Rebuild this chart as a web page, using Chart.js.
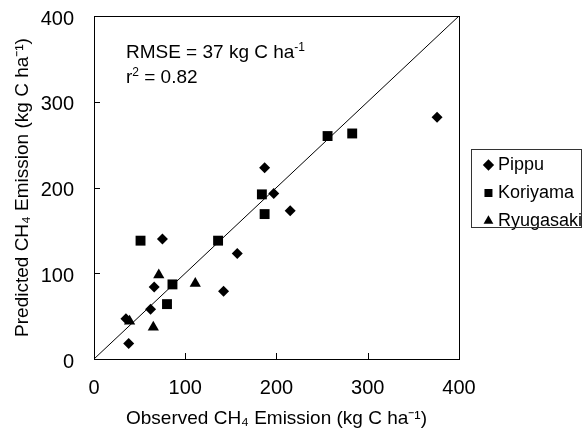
<!DOCTYPE html>
<html lang="en">
  <head>
    <meta charset="UTF-8" />
    <title>Observed vs Predicted CH4 Emission</title>
    <script src="https://cdn.jsdelivr.net/npm/chart.js"></script>
    <style>
      html, body { margin: 0; padding: 0; background: #fff; }
    </style>
  </head>
  <body>
    <canvas id="ch4Chart" width="583" height="430"></canvas>
    <script>
      // observed (x) vs predicted (y) CH4 emission, kg C/ha
      const pippuObs = [376, 187, 197, 215, 75, 157, 142, 66, 62, 35, 38];
      const pippuPred = [282, 223, 193, 173, 140, 123, 79, 84, 58, 47, 18];
      const koriyamaObs = [256, 283, 184, 187, 51, 136, 86, 80];
      const koriyamaPred = [260, 263, 192, 169, 138, 138, 87, 64];
      const ryugasakiObs = [71, 111, 65, 39];
      const ryugasakiPred = [98, 88, 37, 44];

      const siteNames = ["Pippu", "Koriyama", "Ryugasaki"];
      const axisTicks = [0, 100, 200, 300, 400];
      const oneToOne = [0, 400];

      const xTitle = "Observed CH\u2084 Emission (kg C ha\u207B\u00B9)";
      const yTitle = "Predicted CH\u2084 Emission (kg C ha\u207B\u00B9)";

      const fontFamily = "'Liberation Sans', Arial, sans-serif";
      Chart.defaults.font.family = fontFamily;
      Chart.defaults.color = "#000";

      const toPoints = (xs, ys) => xs.map((x, i) => ({ x: x, y: ys[i] }));

      // draws a line of text where some pieces are superscript
      function drawRich(ctx, parts, x, y, size) {
        let cx = x;
        parts.forEach((p) => {
          const fs = p.sup ? Math.round(size * 0.62) : size;
          ctx.font = fs + "px " + fontFamily;
          ctx.fillText(p.t, cx, p.sup ? y - size * 0.38 : y);
          cx += ctx.measureText(p.t).width;
        });
      }

      const framePlugin = {
        id: "frame",
        afterLayout(chart) {
          // push the legend a little clear of the plot frame
          const lg = chart.legend;
          lg.left += 19;
          lg.right += 19;
          lg.top += 5.5;
          lg.bottom += 5.5;
        },
        afterDraw(chart) {
          const ctx = chart.ctx;
          const xs = chart.scales.x;
          const ys = chart.scales.y;
          const { left, right, top, bottom } = chart.chartArea;
          ctx.save();
          ctx.strokeStyle = "#000";
          ctx.lineWidth = 1;

          // inward tick marks
          ctx.beginPath();
          xs.ticks.forEach((t) => {
            const px = Math.round(xs.getPixelForValue(t.value)) + 0.5;
            ctx.moveTo(px, bottom);
            ctx.lineTo(px, bottom - 6);
          });
          ys.ticks.forEach((t) => {
            const py = Math.round(ys.getPixelForValue(t.value)) + 0.5;
            ctx.moveTo(left, py);
            ctx.lineTo(left + 6, py);
          });
          ctx.stroke();

          // plot frame
          const l = Math.round(left) + 0.5;
          const t = Math.round(top) + 0.5;
          ctx.strokeRect(l, t, Math.round(right) - Math.round(left), Math.round(bottom) - Math.round(top));

          // stats text
          ctx.fillStyle = "#000";
          ctx.textBaseline = "alphabetic";
          ctx.textAlign = "left";
          const sx = xs.getPixelForValue(35);
          drawRich(ctx, [{ t: "RMSE = 37 kg C ha" }, { t: "-1", sup: true }], sx, ys.getPixelForValue(350.5), 19);
          drawRich(ctx, [{ t: "r" }, { t: "2", sup: true }, { t: " = 0.82" }], sx, ys.getPixelForValue(321.5), 19);

          // legend box
          const lg = chart.legend;
          const hb = lg.legendHitBoxes;
          if (hb && hb.length) {
            const first = hb[0];
            const last = hb[hb.length - 1];
            const bx = Math.round(lg.left - 7) + 0.5;
            const by = Math.round(first.top - 7) + 0.5;
            const bb = Math.round(last.top + last.height - 3) + 0.5;
            const br = chart.width - 1.5;
            ctx.strokeStyle = "#333";
            ctx.strokeRect(bx, by, br - bx, bb - by);
          }
          ctx.restore();
        },
      };

      new Chart(document.getElementById("ch4Chart"), {
        type: "scatter",
        data: {
          datasets: [
            {
              label: siteNames[0],
              data: toPoints(pippuObs, pippuPred),
              pointStyle: "rectRot",
              pointRadius: 5.5,
              backgroundColor: "#000",
              borderColor: "#000",
              borderWidth: 0,
            },
            {
              label: siteNames[1],
              data: toPoints(koriyamaObs, koriyamaPred),
              pointStyle: "rect",
              pointRadius: 7,
              backgroundColor: "#000",
              borderColor: "#000",
              borderWidth: 0,
            },
            {
              label: siteNames[2],
              data: toPoints(ryugasakiObs, ryugasakiPred),
              pointStyle: "triangle",
              pointRadius: 6.5,
              backgroundColor: "#000",
              borderColor: "#000",
              borderWidth: 0,
            },
            {
              label: "1:1",
              data: toPoints(oneToOne, oneToOne),
              showLine: true,
              pointRadius: 0,
              borderColor: "#000",
              borderWidth: 1,
              order: 1,
            },
          ],
        },
        options: {
          responsive: false,
          devicePixelRatio: 1,
          animation: false,
          events: [],
          layout: { padding: { top: 16, right: 10, left: 0, bottom: 0 } },
          plugins: {
            tooltip: { enabled: false },
            legend: {
              position: "right",
              align: "center",
              fullSize: false,
              labels: {
                usePointStyle: true,
                boxWidth: 1,
                boxHeight: 8,
                padding: 10,
                color: "#000",
                font: { size: 18 },
                filter: (item) => item.datasetIndex < 3,
              },
            },
          },
          scales: {
            x: {
              type: "linear",
              position: "bottom",
              min: 0,
              max: 400,
              afterBuildTicks: (s) => {
                s.ticks = axisTicks.map((v) => ({ value: v }));
              },
              afterFit: (s) => {
                s.height = 71;
              },
              ticks: { padding: 17.2, color: "#000", font: { size: 20 } },
              grid: { display: false, drawTicks: false },
              border: { display: false },
              title: {
                display: true,
                text: xTitle,
                color: "#000",
                font: { size: 19 },
                padding: { top: 9, bottom: 0 },
              },
            },
            y: {
              type: "linear",
              position: "left",
              min: 0,
              max: 400,
              afterBuildTicks: (s) => {
                s.ticks = axisTicks.map((v) => ({ value: v }));
              },
              afterFit: (s) => {
                s.width = 94;
              },
              ticks: { padding: 0, labelOffset: 3, color: "#000", font: { size: 20 } },
              grid: {
                display: true,
                drawOnChartArea: false,
                drawTicks: true,
                tickLength: 20,
                color: "rgba(0,0,0,0)",
              },
              border: { display: false },
              title: {
                display: true,
                text: yTitle,
                color: "#000",
                font: { size: 19 },
                padding: { top: 11.6, bottom: 8 },
              },
            },
          },
        },
        plugins: [framePlugin],
      });
    </script>
  </body>
</html>
